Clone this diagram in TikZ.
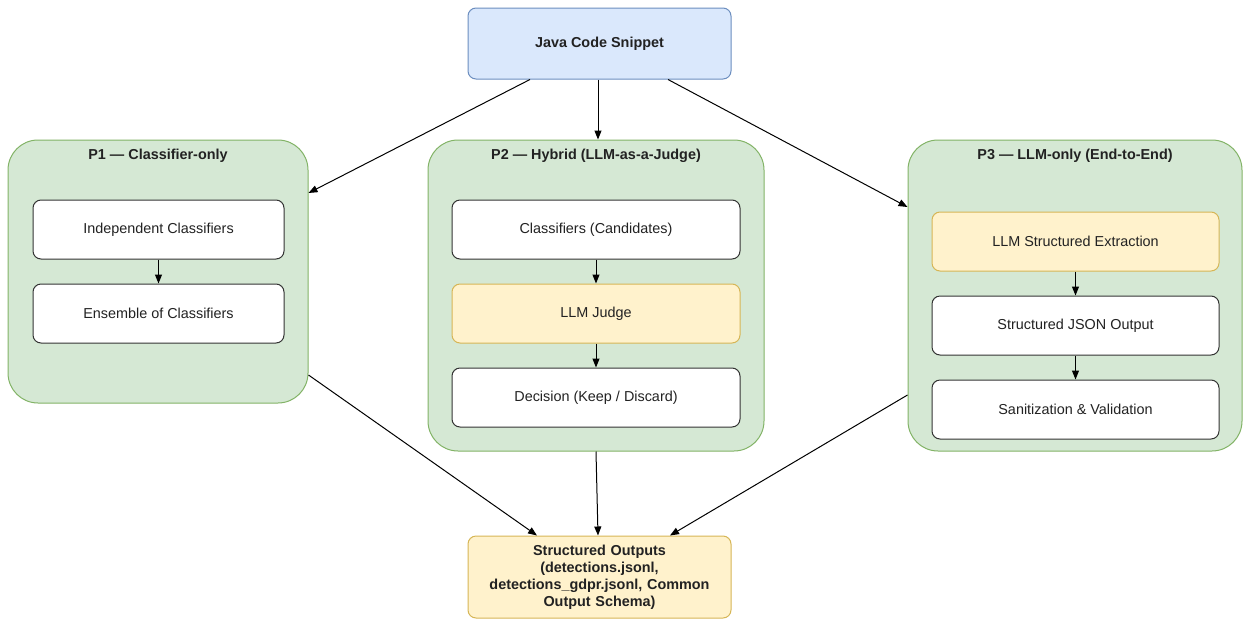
\documentclass[tikz,border=0pt]{standalone}
\usepackage{fontspec}
\setmainfont{Liberation Sans}
\usetikzlibrary{arrows.meta}
\definecolor{bluefill}{HTML}{DAE8FC}
\definecolor{blueline}{HTML}{6C8EBF}
\definecolor{greenfill}{HTML}{D5E8D4}
\definecolor{greenline}{HTML}{82B366}
\definecolor{yelfill}{HTML}{FFF2CC}
\definecolor{yelline}{HTML}{D6B656}
\definecolor{boxline}{HTML}{333333}
\definecolor{txt}{HTML}{222222}
\tikzset{
  base/.style={rectangle, rounded corners=8pt, line width=1pt, inner sep=0pt, align=center,
    font=\fontsize{14.4}{17}\selectfont, text=txt},
  bluebox/.style={base, fill=bluefill, draw=blueline, font=\fontsize{14.4}{17}\selectfont\bfseries},
  whitebox/.style={base, fill=white, draw=boxline},
  yelbox/.style={base, fill=yelfill, draw=yelline},
  outbox/.style={base, fill=yelfill, draw=yelline, font=\fontsize{14.4}{17}\selectfont\bfseries},
  group/.style={rectangle, rounded corners=30pt, line width=1pt, fill=greenfill, draw=greenline, inner sep=0pt},
  gtitle/.style={font=\fontsize{14.4}{17}\selectfont\bfseries, text=txt, inner sep=0pt},
  arr/.style={line width=1pt, -{Triangle[length=9pt,width=7pt]}},
}
\begin{document}
\begin{tikzpicture}[x=1pt,y=-1pt]
\useasboundingbox (0,0) rectangle (1243,619);
% groups
\node[group, minimum width=300pt, minimum height=263pt] (p1) at (158,271.5) {};
\node[group, minimum width=336pt, minimum height=311pt] (p2) at (596,295.5) {};
\node[group, minimum width=334pt, minimum height=311pt] (p3) at (1075,295.5) {};
\node[gtitle] (t1) at (158,156) {P1 — Classifier-only};
\node[gtitle] (t2) at (596,156) {P2 — Hybrid (LLM-as-a-Judge)};
\node[gtitle] (t3) at (1075,156) {P3 — LLM-only (End-to-End)};
% top & bottom
\node[bluebox, minimum width=263pt, minimum height=71pt] (top) at (599.5,43.5) {Java Code Snippet};
\node[outbox, minimum width=263pt, minimum height=82pt, text width=240pt] (out) at (599.5,577) {Structured Outputs\\(detections.jsonl,\\detections\_gdpr.jsonl, Common\\Output Schema)};
% P1 inner
\node[whitebox, minimum width=251pt, minimum height=59pt] (a1) at (158.5,229.5) {Independent Classifiers};
\node[whitebox, minimum width=251pt, minimum height=59pt] (a2) at (158.5,313.5) {Ensemble of Classifiers};
% P2 inner
\node[whitebox, minimum width=288pt, minimum height=59pt] (b1) at (596,229.5) {Classifiers (Candidates)};
\node[yelbox, minimum width=288pt, minimum height=59pt] (b2) at (596,313.5) {LLM Judge};
\node[whitebox, minimum width=288pt, minimum height=59pt] (b3) at (596,397.5) {Decision (Keep / Discard)};
% P3 inner
\node[yelbox, minimum width=287pt, minimum height=59pt] (c1) at (1075.5,241.5) {LLM Structured Extraction};
\node[whitebox, minimum width=287pt, minimum height=59pt] (c2) at (1075.5,325.5) {Structured JSON Output};
\node[whitebox, minimum width=287pt, minimum height=59pt] (c3) at (1075.5,409.5) {Sanitization \& Validation};
% inner arrows
\draw[arr] (a1) -- (a2);
\draw[arr] (b1) -- (b2);
\draw[arr] (b2) -- (b3);
\draw[arr] (c1) -- (c2);
\draw[arr] (c2) -- (c3);
% outer arrows
\draw[arr] ([xshift=-69.5pt]top.south) -- ([yshift=78.5pt]p1.east);
\draw[arr] ([xshift=-1.5pt]top.south) -- ([xshift=-1.5pt]top.south |- p2.north);
\draw[arr] ([xshift=68.5pt]top.south) -- ([yshift=88.5pt]p3.west);
\draw[arr] ([yshift=-103.5pt]p1.east) -- ([xshift=-62.5pt]out.north);
\draw[arr] (p2.south) -- ([xshift=-1.5pt]out.north);
\draw[arr] ([yshift=-99.5pt]p3.west) -- ([xshift=70.5pt]out.north);
\end{tikzpicture}
\end{document}
